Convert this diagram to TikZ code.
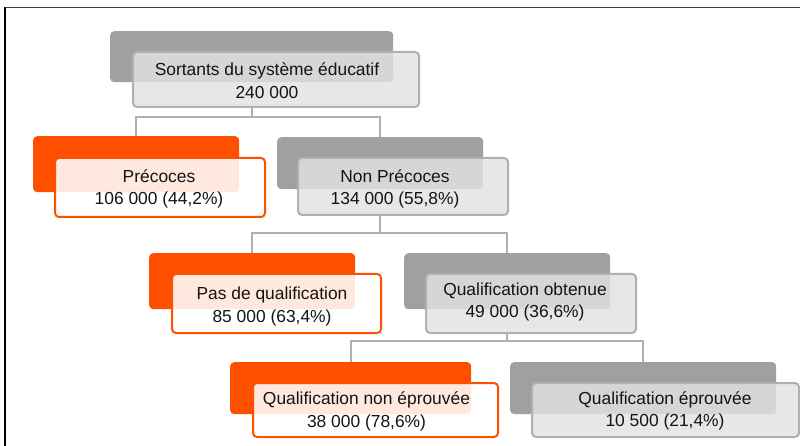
\documentclass[tikz,border=0pt]{standalone}
\usepackage{fontspec}
\setmainfont{Liberation Sans}
\definecolor{orng}{HTML}{FF5000}
\definecolor{shgray}{HTML}{A0A0A0}
\definecolor{frgray}{HTML}{E2E2E2}
\definecolor{bdgray}{HTML}{B0B0B0}
\definecolor{txt}{HTML}{141414}
\tikzset{
  box/.style={rectangle, rounded corners=4pt, inner sep=0pt, anchor=north west},
  graysh/.style={box, fill=shgray},
  orangesh/.style={box, fill=orng},
  grayfront/.style={box, fill=frgray, fill opacity=0.82, draw=bdgray, line width=2pt},
  orangefront/.style={box, fill=white, fill opacity=0.87, draw=orng, line width=2pt},
  lbl/.style={inner sep=0pt, text=txt, font=\fontsize{17.4}{22.5}\selectfont},
  conn/.style={draw=bdgray, line width=2pt},
  frame/.style={line width=1.6pt},
}
\newcommand{\twoln}[2]{\begin{tabular}{@{}c@{}}#1\\#2\end{tabular}}
\begin{document}
\begin{tikzpicture}[x=1pt, y=-1pt]
\useasboundingbox (0,0) rectangle (800,446);
\fill[white] (0,0) rectangle (800,446);
% frame
\coordinate (fa) at (5,446);
\coordinate (fb) at (5,7.5);
\coordinate (fc) at (800,7.5);
\draw[frame, black] (fa) -- (fb);
\draw[frame, black!75] (fb) -- (fc);

% shadows
\node[graysh, minimum width=283pt, minimum height=51pt] (rs) at (110,31) {};
\node[orangesh, minimum width=206pt, minimum height=56pt] (ps) at (33,136) {};
\node[graysh, minimum width=206pt, minimum height=52pt] (ns) at (277,137) {};
\node[orangesh, minimum width=206pt, minimum height=56pt] (qs) at (149,253) {};
\node[graysh, minimum width=206pt, minimum height=56pt] (os) at (404,253) {};
\node[orangesh, minimum width=241pt, minimum height=52pt] (es) at (230,362) {};
\node[graysh, minimum width=266pt, minimum height=52pt] (ts) at (510,362) {};

% fronts
\node[grayfront, minimum width=286pt, minimum height=55pt] (rf) at (132,51) {};
\node[orangefront, minimum width=210pt, minimum height=59pt] (pf) at (54,157) {};
\node[grayfront, minimum width=210pt, minimum height=57pt] (nf) at (297,157) {};
\node[orangefront, minimum width=209pt, minimum height=59pt] (qf) at (171,273) {};
\node[grayfront, minimum width=210pt, minimum height=59pt] (of) at (425,273) {};
\node[orangefront, minimum width=245pt, minimum height=54pt] (ef) at (252,382) {};
\node[grayfront, minimum width=267pt, minimum height=54pt] (tf) at (531,382) {};

% connectors
\draw[conn] (rs.center |- rf.south) -- (rs.center |- 0,117) coordinate (j1);
\draw[conn] (ps.north) |- (j1) -| (ns.north);
\draw[conn] (ns.center |- nf.south) -- (ns.center |- 0,233) coordinate (j2);
\draw[conn] (qs.north) |- (j2) -| (os.north);
\draw[conn] (os.center |- of.south) -- (os.center |- 0,341) coordinate (j3);
\draw[conn] (es.north) |- (j3) -| (ts.north);

% labels
\node[lbl] (rt) at (267,82.5) {\twoln{Sortants du système éducatif}{240 000}};
\node[lbl] (pt) at (159,189) {\twoln{Précoces}{106 000 (44,2\%)}};
\node[lbl] (nt) at (395,189) {\twoln{Non Précoces}{134 000 (55,8\%)}};
\node[lbl] (qt) at (272,306.5) {\twoln{Pas de qualification}{85 000 (63,4\%)}};
\node[lbl] (ot) at (525,302) {\twoln{Qualification obtenue}{49 000 (36,6\%)}};
\node[lbl] (et) at (366.5,411.5) {\twoln{Qualification non éprouvée}{38 000 (78,6\%)}};
\node[lbl] (tt) at (665,411) {\twoln{Qualification éprouvée}{10 500 (21,4\%)}};
\end{tikzpicture}
\end{document}
